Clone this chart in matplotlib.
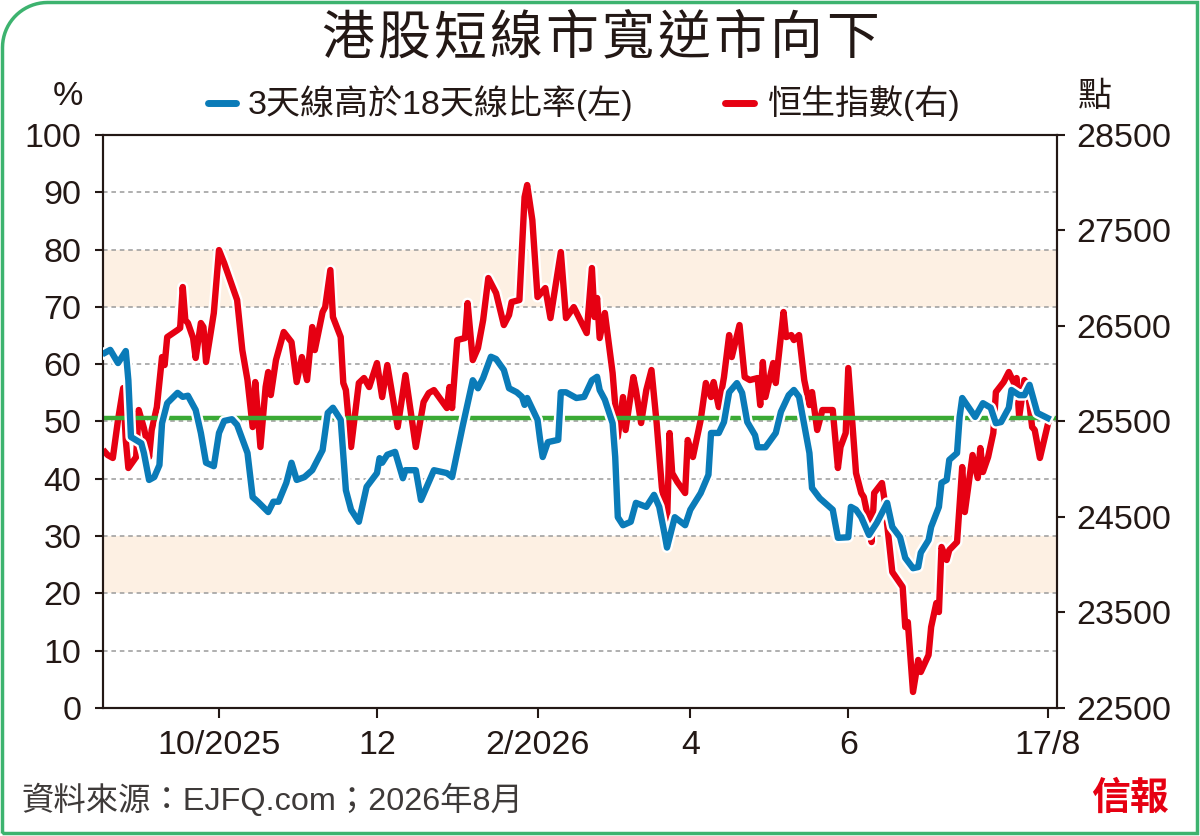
import matplotlib.pyplot as plt
import matplotlib.patheffects as pe
from matplotlib.lines import Line2D
from matplotlib.path import Path
from matplotlib.patches import PathPatch
import numpy as np
import pandas as pd

plt.rcParams['font.family'] = ['Liberation Sans', 'Noto Sans CJK TC']

# data: day offsets from 18/8/2025
start = pd.Timestamp('2025-08-18')

breadth_day = [0, 2, 5, 8, 9, 10, 14, 15, 17, 19, 21, 22, 24, 28, 30, 32, 35, 37, 39, 42,
               44, 46, 49, 51, 55, 57, 59, 61, 63, 65, 67, 70, 72, 74, 77, 80, 84, 86, 88, 91,
               93, 95, 98, 101, 105, 106, 107, 109, 112, 115, 116, 120, 122, 127, 132, 134, 138, 142, 144, 146,
               149, 151, 154, 156, 159, 161, 162, 163, 167, 168, 169, 171, 175, 176, 178, 182, 185, 188, 190, 191,
               193, 196, 197, 198, 200, 203, 205, 209, 212, 214, 216, 217, 220, 224, 226, 230, 233, 234, 237, 239,
               241, 244, 246, 248, 251, 252, 255, 259, 261, 264, 266, 268, 270, 272, 273, 276, 281, 283, 287, 288,
               290, 292, 295, 298, 302, 304, 307, 309, 312, 314, 315, 318, 319, 322, 323, 325, 326, 329, 330, 331,
               336, 339, 342, 344, 346, 349, 350, 353, 355, 357, 360, 364]
breadth_pct = [62.0, 62.5, 60.2, 62.3, 57.2, 47.3, 46.2, 44.5, 39.8, 40.3, 42.4, 49.7, 53.2, 55.0, 54.3, 54.5, 52.0, 48.0, 42.8, 42.2,
               48.0, 50.1, 50.4, 49.4, 44.5, 36.8, 36.0, 35.1, 34.2, 36.0, 36.0, 39.3, 42.8, 39.8, 40.3, 41.5, 45.0, 51.5, 52.4, 50.3,
               38.0, 34.6, 32.5, 38.6, 41.0, 43.6, 42.8, 44.2, 44.7, 40.1, 41.5, 41.5, 36.3, 41.5, 41.0, 40.3, 49.0, 57.2, 55.8, 57.6,
               61.3, 60.9, 59.0, 55.8, 55.1, 54.3, 52.9, 54.1, 50.3, 46.8, 43.8, 46.4, 46.8, 55.1, 55.1, 54.1, 54.3, 57.2, 57.8, 55.5,
               53.8, 49.7, 43.8, 33.3, 31.9, 32.5, 35.8, 35.1, 37.2, 35.1, 30.5, 28.0, 33.3, 31.9, 34.6, 37.5, 40.7, 48.0, 48.0, 49.9,
               55.1, 56.7, 55.0, 49.9, 47.6, 45.5, 45.5, 48.0, 51.7, 54.6, 55.5, 54.3, 49.4, 44.5, 38.4, 36.6, 34.6, 29.7, 29.8, 35.1,
               34.6, 33.3, 30.2, 32.3, 35.8, 31.6, 29.8, 26.2, 24.4, 24.6, 27.1, 29.3, 31.6, 35.1, 39.3, 39.8, 43.3, 44.5, 50.8, 54.1,
               50.8, 53.2, 52.4, 49.7, 49.9, 52.4, 55.5, 54.6, 54.6, 56.4, 51.5, 50.6]

hsi_day = [0, 1, 3, 5, 7, 8, 9, 12, 13, 15, 16, 17, 18, 20, 22, 23, 24, 28, 29, 30,
           31, 32, 34, 35, 37, 38, 39, 42, 44, 46, 51, 53, 55, 57, 58, 60, 62, 63, 64, 66,
           69, 72, 74, 76, 78, 80, 81, 84, 85, 87, 88, 91, 92, 93, 95, 98, 100, 102, 105, 107,
           109, 113, 116, 120, 123, 125, 127, 132, 133, 134, 136, 139, 140, 142, 144, 146, 148, 151, 154, 156,
           157, 160, 162, 163, 165, 167, 170, 172, 176, 178, 181, 186, 188, 189, 190, 191, 193, 196, 198, 200,
           201, 204, 205, 207, 209, 211, 213, 215, 217, 218, 219, 221, 224, 225, 227, 230, 232, 234, 235, 237,
           239, 241, 242, 245, 247, 249, 252, 253, 254, 255, 258, 259, 262, 263, 265, 266, 268, 270, 272, 273,
           275, 277, 281, 283, 284, 286, 287, 290, 292, 293, 295, 296, 297, 300, 301, 304, 308, 309, 310, 312,
           314, 315, 318, 319, 321, 322, 323, 325, 326, 329, 331, 332, 335, 337, 338, 339, 341, 343, 344, 347,
           349, 351, 352, 353, 355, 356, 358, 359, 361, 364]
hsi_pts = [25180, 25149, 25118, 25515, 25850, 25306, 25013, 25128, 25620, 25432, 25306, 25128, 25411, 25651, 26175, 26091, 26384, 26458, 26479, 26908,
           26562, 26531, 26374, 26165, 26531, 26489, 26123, 26636, 27295, 27159, 26772, 26248, 25934, 25442, 25913, 25233, 25861, 26018, 25777, 26143,
           26437, 26332, 25913, 26175, 25934, 26489, 26248, 26646, 26698, 27086, 26594, 26384, 25903, 25829, 25233, 25903, 25955, 25861, 26112, 25756,
           26091, 25442, 25986, 25233, 25704, 25798, 25829, 25641, 25861, 25641, 26353, 26374, 26740, 26143, 26269, 26562, 27002, 26845, 26510, 26615,
           26751, 26772, 27850, 27976, 27609, 26803, 26897, 26583, 27274, 26583, 26698, 26426, 27107, 26594, 26793, 26374, 26636, 26007, 25337, 25756,
           25411, 25965, 25829, 25484, 25829, 26039, 25484, 24814, 24416, 25379, 24960, 24866, 24751, 25306, 25128, 25515, 25903, 25756, 25913, 25651,
           25965, 26405, 26175, 26510, 25965, 25934, 25955, 25672, 26123, 25756, 26112, 25903, 26646, 26384, 26405, 26353, 26405, 25934, 25672, 25808,
           25411, 25620, 25620, 25013, 25233, 25379, 26060, 24960, 24751, 24709, 24447, 24238, 24751, 24856, 24678, 23924, 23767, 23348, 23400, 22668,
           23003, 22877, 23055, 23348, 23599, 23505, 24186, 24050, 24154, 24238, 25023, 24552, 25149, 24908, 25222, 24971, 25128, 25379, 25808, 25913,
           26018, 25903, 25955, 25547, 25934, 25903, 25442, 25411, 25118, 25463]

breadth_avg = 50.6
bands = [(20, 30), (70, 80)]

tick_dates = ['2025-10-01', '2025-12-01', '2026-02-01', '2026-04-01', '2026-06-01', '2026-08-17']
tick_labels = ['10/2025', '12', '2/2026', '4', '6', '17/8']

title = '港股短線市寬逆市向下'

BLUE = '#0a7bb8'
RED = '#e60012'
GREEN = '#3aaa35'
INK = '#231815'

b_dates = start + pd.to_timedelta(breadth_day, unit='D')
h_dates = start + pd.to_timedelta(hsi_day, unit='D')

fig = plt.figure(figsize=(12, 8.36), dpi=100)
ax = fig.add_axes([0.08625, 0.15311, 0.79458, 0.68541])
ax2 = ax.twinx()

ax.set_zorder(2)
ax2.set_zorder(1)
ax.patch.set_visible(False)

for lo, hi in bands:
    ax2.axhspan(22500 + lo * 60, 22500 + hi * 60, color='#fdf0e3', lw=0, zorder=0)
for v in range(10, 100, 10):
    ax2.axhline(22500 + v * 60, color='#9a9a9a', lw=1.1, ls=(0, (3, 2.5)), zorder=1)

outline = [pe.Stroke(linewidth=8, foreground='white'), pe.Normal()]
ax.axhline(breadth_avg, color=GREEN, lw=3.2, zorder=1)
ax2.plot(h_dates, hsi_pts, color=RED, lw=4.6, solid_joinstyle='round',
         path_effects=outline, zorder=3)
ax.plot(b_dates, breadth_pct, color=BLUE, lw=4.6, solid_joinstyle='round',
        path_effects=outline, zorder=4)

ax.set_ylim(0, 100)
ax2.set_ylim(22500, 28500)
ax.set_xlim(start - pd.Timedelta(days=0.6), start + pd.Timedelta(days=367.6))
ax.set_yticks(range(0, 101, 10))
ax2.set_yticks(range(22500, 28501, 1000))
ax.set_xticks(pd.to_datetime(tick_dates))
ax.set_xticklabels(tick_labels)

for a in (ax, ax2):
    for s in a.spines.values():
        s.set_linewidth(1.5)
        s.set_color(INK)
ax.tick_params(axis='y', length=6, width=1.5, pad=10, labelsize=24.5, colors=INK)
ax2.tick_params(axis='y', length=6, width=1.5, pad=8, labelsize=24.5, colors=INK)
ax.tick_params(axis='x', length=7, width=1.5, pad=9, labelsize=24.5, colors=INK)

# title with wide letter spacing
for i, ch in enumerate(title):
    fig.text(0.5 + (i - 4.5) * 0.0467, 0.952, ch, ha='center', va='center',
             fontsize=38, color=INK)

# legend, units
fig.add_artist(Line2D([0.173, 0.197], [0.877, 0.877], color=BLUE, lw=5, solid_capstyle='round'))
fig.text(0.206, 0.877, '3天線高於18天線比率(左)', ha='left', va='center', fontsize=24.5, color=INK)
fig.add_artist(Line2D([0.604, 0.628], [0.877, 0.877], color=RED, lw=5, solid_capstyle='round'))
fig.text(0.639, 0.877, '恒生指數(右)', ha='left', va='center', fontsize=24.5, color=INK)
fig.text(0.057, 0.884, '%', ha='center', va='center', fontsize=24.5, color=INK)
fig.text(0.912, 0.884, '點', ha='center', va='center', fontsize=24.5, color=INK)

fig.text(0.018, 0.043, '資料來源：EJFQ.com；2026年8月', ha='left', va='center',
         fontsize=23.3, color='#3e3a39')
fig.text(0.942, 0.043, '信報', ha='center', va='center', fontsize=28,
         fontweight='bold', color=RED)

# green frame, rounded top-left corner
W, H, m, r = 12, 8.36, 0.025, 0.45
t = np.linspace(np.pi / 2, np.pi, 20)
arc = np.column_stack([m + r + r * np.cos(t), H - m - r + r * np.sin(t)])
verts = np.vstack([[[m, m], [W - m, m], [W - m, H - m]], arc, [[m, m]]])
frame = PathPatch(Path(verts), transform=fig.dpi_scale_trans, fill=False,
                  edgecolor='#3db36f', lw=2.5)
fig.add_artist(frame)

fig.savefig('out.png', dpi=100)
